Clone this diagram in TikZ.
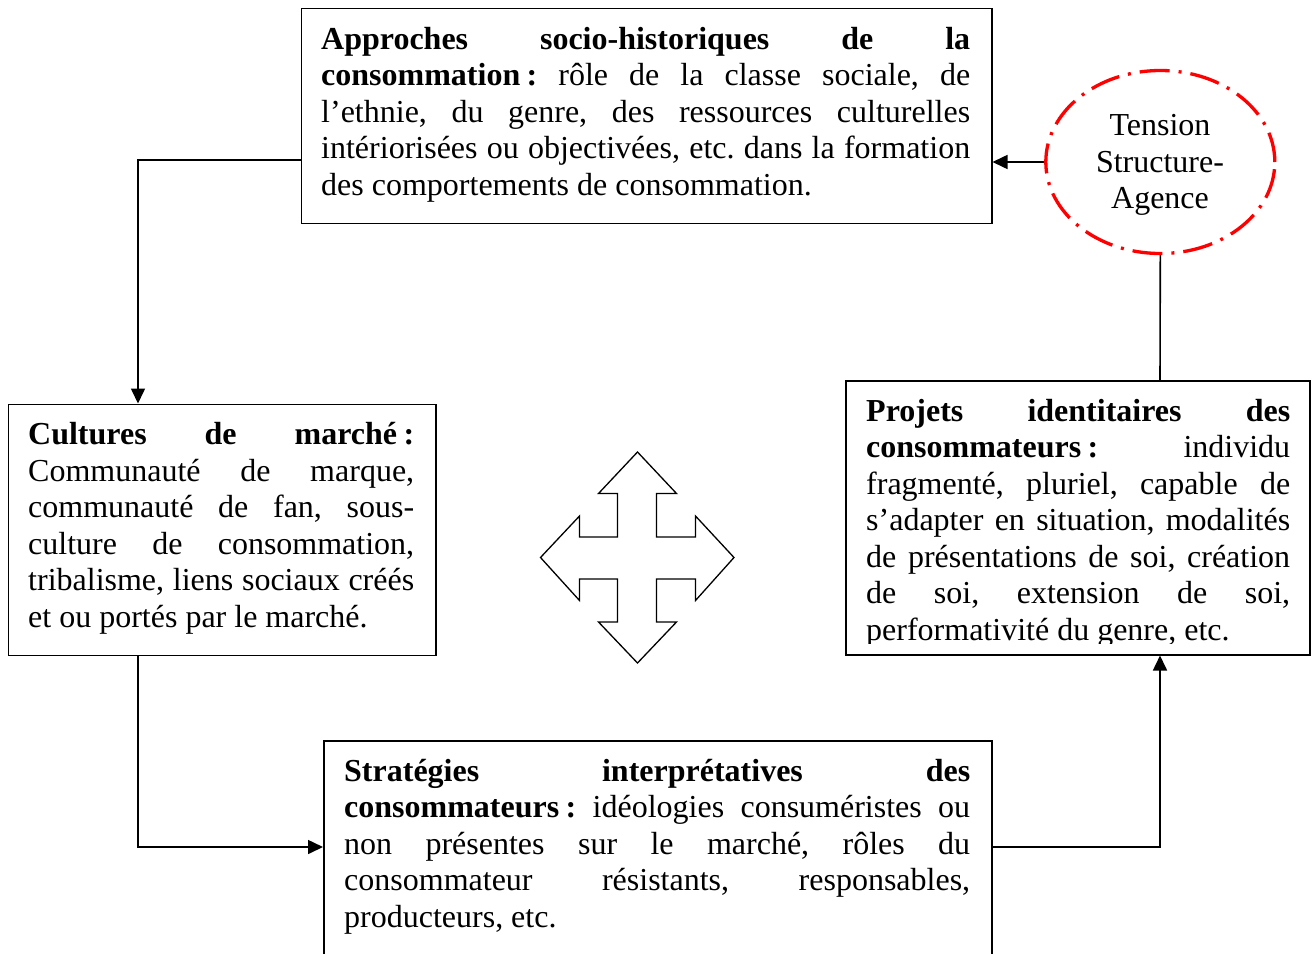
\documentclass[tikz,border=0pt]{standalone}
\usepackage{fontspec}
\setmainfont{Liberation Serif}
\usetikzlibrary{arrows.meta,shapes.geometric}
\newcommand\jl[1]{\makebox[\linewidth][s]{\frenchspacing\spaceskip=0pt\xspaceskip=0pt #1}\\}
\newcommand\lastl[1]{{\frenchspacing\spaceskip=0pt\xspaceskip=0pt #1}}
\newcommand\bcolon[1]{\textbf{#1\hspace{0.2em}:}}
\begin{document}
\begin{tikzpicture}[x=1pt,y=-1pt,
  boxstyle/.style={draw, line width=1.5pt, rectangle, inner sep=0pt, anchor=north west},
  txt/.style={inner sep=0pt, anchor=base west, align=left, font=\fontsize{32}{36.5}\selectfont\frenchspacing},
  conn/.style={line width=1.6pt},
  arr/.style={conn, -{Triangle[length=15pt,width=14pt]}},
  ellstyle/.style={ellipse, draw=red, line width=3.3pt, dash pattern=on 30pt off 9pt on 3pt off 9pt,
    minimum width=229pt, minimum height=183pt, inner sep=0pt},
  crossarrow/.style={draw, line width=1.3pt, line join=miter, fill=white}]
\useasboundingbox (0,0) rectangle (1314,953);
\clip (0,0) rectangle (1314,953);

% boxes
\node[boxstyle, minimum width=690.5pt, minimum height=215pt] (top) at (300.5,7.5) {};
\node[boxstyle, minimum width=427.5pt, minimum height=251pt] (left) at (7.5,403.5) {};
\node[boxstyle, minimum width=464pt, minimum height=274pt] (rgt) at (845,380) {};
\node[boxstyle, minimum width=668pt, minimum height=260pt] (bot) at (323,740) {};
\node[ellstyle] (ell) at (1160.3,162) {};

% texts
\node[txt, text width=649pt] (toptxt) at (321,49) {%
\jl{\textbf{Approches socio-historiques de la}}%
\jl{\bcolon{consommation} rôle de la classe sociale, de}%
\jl{l’ethnie, du genre, des ressources culturelles}%
\jl{intériorisées ou objectivées, etc. dans la formation}%
\lastl{des comportements de consommation.}};

\node[txt, text width=386pt] (lefttxt) at (28,444.5) {%
\jl{\textbf{Cultures de marché\hspace{0.2em}:}}%
\jl{Communauté de marque,}%
\jl{communauté de fan, sous-}%
\jl{culture de consommation,}%
\jl{tribalisme, liens sociaux créés}%
\lastl{et ou portés par le marché.}};

\begin{scope}
\clip (845,380) rectangle (1309,643);
\node[txt, text width=424pt] (rgttxt) at (866,421.3) {%
\jl{\textbf{Projets identitaires des}}%
\jl{\bcolon{consommateurs} individu}%
\jl{fragmenté, pluriel, capable de}%
\jl{s’adapter en situation, modalités}%
\jl{de présentations de soi, création}%
\jl{de soi, extension de soi,}%
\lastl{performativité du genre, etc.}};
\end{scope}

\node[txt, text width=626pt] (bottxt) at (344,781) {%
\jl{\textbf{Stratégies interprétatives des}}%
\jl{\bcolon{consommateurs} idéologies consuméristes ou}%
\jl{non présentes sur le marché, rôles du}%
\jl{consommateur résistants, responsables,}%
\lastl{producteurs, etc.}};

\node[anchor=base, inner sep=0pt, align=center, text width=220pt,
  font=\fontsize{32}{36.5}\selectfont] (elltxt) at (1160,135.5)
  {Tension\\Structure-\\Agence};

% connectors
\draw[arr] ([yshift=-152.5pt]top.north west) -| ([xshift=130.5pt]left.north west);
\draw[arr] ([xshift=130.5pt]left.south west) |- ([yshift=-107pt]bot.north west);
\draw[arr] ([yshift=-107pt]bot.north east) -| ([xshift=315pt]rgt.south west);
\draw[conn] ([xshift=315pt]rgt.north west) -- (ell.south);
\draw[arr] (ell.west) -- (ell.west -| top.east);

% four-way arrow
\draw[crossarrow] (637.5,452) -- (676.5,493.5) -- (656.5,493.5) -- (656.5,537)
  -- (695.5,537) -- (695.5,516) -- (734,557.5) -- (695.5,600.5) -- (695.5,579)
  -- (656.5,579) -- (656.5,622) -- (676.5,622) -- (637.5,663) -- (598.5,622)
  -- (617.5,622) -- (617.5,579) -- (579.5,579) -- (579.5,600.5) -- (540.5,557.5)
  -- (579.5,516) -- (579.5,537) -- (617.5,537) -- (617.5,493.5) -- (598.5,493.5) -- cycle;
\end{tikzpicture}
\end{document}
